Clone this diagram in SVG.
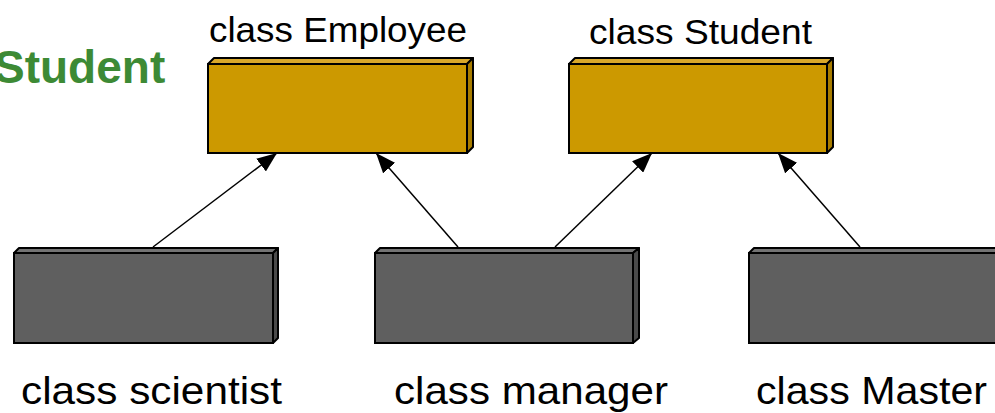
<svg xmlns="http://www.w3.org/2000/svg" width="995" height="413" viewBox="0 0 995 413">
<style>
.lbl{font-family:"Liberation Sans",Arial,sans-serif;fill:#000}
.gold{fill:#cc9900;stroke:#000;stroke-width:2}
.goldtop{fill:#d9a82a;stroke:#000;stroke-width:2;stroke-linejoin:round}
.goldside{fill:#a87d00;stroke:#000;stroke-width:2;stroke-linejoin:round}
.gray{fill:#5f5f5f;stroke:#000;stroke-width:2}
.graytop{fill:#737373;stroke:#000;stroke-width:2;stroke-linejoin:round}
.grayside{fill:#4a4a4a;stroke:#000;stroke-width:2;stroke-linejoin:round}
.conn{stroke:#000;stroke-width:1.5;fill:none;marker-end:url(#arr)}
</style>
<defs>
<marker id="arr" viewBox="0 0 20 16" refX="20" refY="8" markerWidth="20" markerHeight="16" markerUnits="userSpaceOnUse" orient="auto">
<path d="M0,0 L20,8 L0,16 Z" fill="#000"/>
</marker>
</defs>
<rect width="995" height="413" fill="#fff"/>
<text x="-6" y="83" style="font-family:'Liberation Sans',Arial,sans-serif;font-weight:bold;font-size:46px;fill:#3d8a35">Student</text>

<g id="employee">
<polygon class="goldtop" points="208,64 214,58 473,58 467,64"/>
<polygon class="goldside" points="467,64 473,58 473,147 467,153"/>
<rect class="gold" x="208" y="64" width="259" height="89"/>
<text class="lbl" x="209" y="42" font-size="35" textLength="258" lengthAdjust="spacingAndGlyphs">class Employee</text>
</g>
<g id="student">
<polygon class="goldtop" points="569,64 575,58 833,58 827,64"/>
<polygon class="goldside" points="827,64 833,58 833,147 827,153"/>
<rect class="gold" x="569" y="64" width="258" height="89"/>
<text class="lbl" x="589" y="44" font-size="35" textLength="223" lengthAdjust="spacingAndGlyphs">class Student</text>
</g>
<g id="scientist">
<polygon class="graytop" points="14,253 19,248 278,248 273,253"/>
<polygon class="grayside" points="273,253 278,248 278,338 273,343"/>
<rect class="gray" x="14" y="253" width="259" height="90"/>
<text class="lbl" x="21" y="404" font-size="39" textLength="261" lengthAdjust="spacingAndGlyphs">class scientist</text>
</g>
<g id="manager">
<polygon class="graytop" points="375,253 380,248 639,248 633,253"/>
<polygon class="grayside" points="633,253 639,248 639,338 633,343"/>
<rect class="gray" x="375" y="253" width="258" height="90"/>
<text class="lbl" x="394" y="404" font-size="39" textLength="274" lengthAdjust="spacingAndGlyphs">class manager</text>
</g>
<g id="master">
<polygon class="graytop" points="749,253 754,248 1000,248 1000,253"/>
<rect class="gray" x="749" y="253" width="260" height="90"/>
<text class="lbl" x="756" y="404" font-size="39" textLength="231" lengthAdjust="spacingAndGlyphs">class Master</text>
</g>

<g id="connectors">
<line class="conn" x1="153" y1="247" x2="277" y2="153"/>
<line class="conn" x1="458" y1="247" x2="376" y2="153"/>
<line class="conn" x1="555" y1="247" x2="652" y2="153"/>
<line class="conn" x1="860" y1="247" x2="778" y2="153"/>
</g>
</svg>
